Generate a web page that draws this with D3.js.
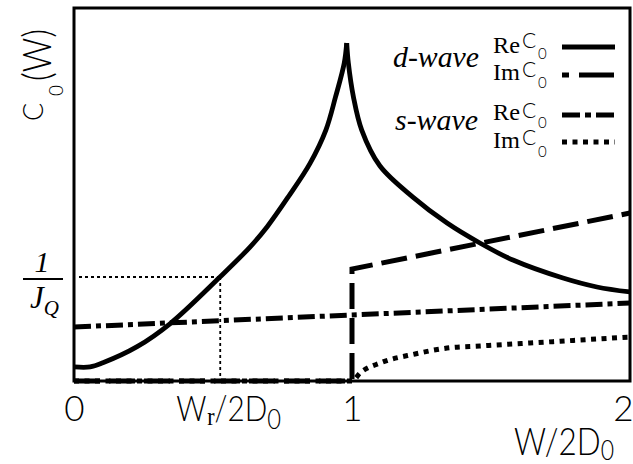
<!DOCTYPE html>
<html><head><meta charset="utf-8">
<script src="https://cdn.jsdelivr.net/npm/d3@7"></script>
<style>body{margin:0;background:#fff;} svg{display:block;}</style>
</head><body>
<svg id="chart" width="633" height="464"></svg>
<script>
// ---- data ----
const xTickValues = [0, 1, 2];
const xTickLabels = ["0", "1", "2"];
const omegaR = 0.526;      // W_r / 2D_0
const invJQ = 1.0;         // 1 / J_Q level
const dWaveRe = [[0,0.135],[0.058,0.135],[0.104,0.175],[0.227,0.33],[0.345,0.55],[0.525,1.0],[0.633,1.288],[0.695,1.484],[0.771,1.772],[0.849,2.093],[0.906,2.413],[0.941,2.734],[0.972,3.055],[0.981,3.25],[0.987,3.055],[1.005,2.734],[1.035,2.413],[1.10,2.07],[1.219,1.769],[1.342,1.519],[1.460,1.327],[1.579,1.163],[1.759,0.990],[1.881,0.904],[2.0,0.856]];
const dWaveIm = [[0,0],[1,0],[1,1.077],[2,1.615]];
const sWaveRe = [[0,0.519],[1,0.635],[2,0.75]];
const sWaveIm = [[0,0],[1,0],[1.029,0.077],[1.101,0.173],[1.227,0.26],[1.342,0.317],[1.460,0.337],[1.579,0.356],[1.701,0.375],[1.820,0.394],[2.0,0.423]];

const SANS = "Lato,Roboto,'DejaVu Sans',sans-serif";
const SERIF = "'Liberation Serif','DejaVu Serif','Times New Roman',serif";

const svg = d3.select("#chart");
const x = d3.scaleLinear().domain([0, 2]).range([74, 630]);
const y = d3.scaleLinear().domain([0, 3.587]).range([381, 8]);

function sans(sel, size) {
  return sel.style("font-family", SANS).style("font-weight", 300).style("font-size", size + "px");
}
function fit(sel, len) {
  return sel.attr("textLength", len).attr("lengthAdjust", "spacingAndGlyphs");
}
// squeeze a composite text horizontally so it spans [x0, x0+w]
function squeeze(textSel, x0, base, w) {
  const bw = textSel.node().getComputedTextLength();
  textSel.attr("transform", `translate(${x0},${base}) scale(${w / bw},1)`);
}

// guide lines (dotted thin)
svg.append("line").attr("x1", x(0) + 5).attr("x2", x(omegaR)).attr("y1", y(invJQ)).attr("y2", y(invJQ))
  .attr("stroke", "#000").attr("stroke-width", 1.8).attr("stroke-dasharray", "3,3");
svg.append("line").attr("x1", x(omegaR)).attr("x2", x(omegaR)).attr("y1", y(invJQ)).attr("y2", y(0))
  .attr("stroke", "#000").attr("stroke-width", 1.8).attr("stroke-dasharray", "3,3");

// frame
svg.append("rect").attr("x", x(0)).attr("y", y(3.587)).attr("width", x(2) - x(0)).attr("height", y(0) - y(3.587))
  .attr("fill", "none").attr("stroke", "#000").attr("stroke-width", 3);

const lineSmooth = d3.line().x(d => x(d[0])).y(d => y(d[1])).curve(d3.curveCatmullRom.alpha(0.5));
const lineMono = d3.line().x(d => x(d[0])).y(d => y(d[1])).curve(d3.curveMonotoneX);
const lineLin = d3.line().x(d => x(d[0])).y(d => y(d[1]));

// d-wave Re: split at cusp
const peakIdx = d3.maxIndex(dWaveRe, d => d[1]);
const leftBranch = dWaveRe.slice(0, peakIdx + 1);
const rightBranch = dWaveRe.slice(peakIdx);
[leftBranch, rightBranch].forEach(br => {
  svg.append("path").attr("d", lineSmooth(br)).attr("fill", "none").attr("stroke", "#000")
    .attr("stroke-width", 4.8).attr("stroke-linejoin", "miter");
});

// s-wave Re: dash-dot
svg.append("path").attr("d", lineLin(sWaveRe)).attr("fill", "none").attr("stroke", "#000")
  .attr("stroke-width", 5).attr("stroke-dasharray", "17,5,5,5");

// s-wave Im: dotted squares
svg.append("path").attr("d", lineMono(sWaveIm)).attr("fill", "none").attr("stroke", "#000")
  .attr("stroke-width", 5).attr("stroke-dasharray", "5,5.5");

// d-wave Im: dashed
svg.append("path").attr("d", lineLin(dWaveIm)).attr("fill", "none").attr("stroke", "#000")
  .attr("stroke-width", 5).attr("stroke-dasharray", "26,9");

// x axis tick labels
const axis = d3.axisBottom(x).tickValues(xTickValues).tickFormat((d, i) => xTickLabels[i]).tickSize(0);
const gx = svg.append("g").attr("transform", `translate(0,${y(0)})`).call(axis);
gx.select(".domain").remove();
sans(gx.selectAll("text").attr("y", 40).attr("dy", 0).attr("fill", "#000"), 35);
gx.selectAll("text").filter(d => d === 2).attr("dx", -7);

// W_r/2D_0 label (single text element)
const wr = sans(svg.append("text"), 35);
wr.append("tspan").text("W");
wr.append("tspan").attr("dy", 4).attr("dx", 1).style("font-family", SERIF).style("font-weight", 400).style("font-size", "26px").text("r");
wr.append("tspan").attr("dy", -4).text("/2D");
wr.append("tspan").attr("dy", 8).style("font-size", "28px").text("0");
squeeze(wr, x(omegaR) - 44, 421, 104);

// x-axis title
const xt = sans(svg.append("text"), 37);
xt.append("tspan").text("W/2D");
xt.append("tspan").attr("dy", 5).style("font-size", "27px").text("0");
squeeze(xt, 514, 455, 100);

// y-axis title (rotated)
const yt = svg.append("g").attr("transform", "translate(43,121) rotate(-90)");
sans(yt.append("text").attr("x", 0).attr("y", 0), 27).text("C");
sans(yt.append("text").attr("x", 25).attr("y", 20), 19).text("0");
fit(sans(yt.append("text").attr("x", 40).attr("y", 8), 40).text("(W)"), 52);

// 1/J_Q label
svg.append("text").attr("x", 42).attr("y", 272).attr("text-anchor", "middle")
  .style("font-family", SERIF).style("font-style", "italic").style("font-size", "30px").text("1");
svg.append("line").attr("x1", 23).attr("x2", 63).attr("y1", 279).attr("y2", 279)
  .attr("stroke", "#000").attr("stroke-width", 1.8);
const jq = svg.append("text").attr("x", 30).attr("y", 308)
  .style("font-family", SERIF).style("font-style", "italic").style("font-size", "31px");
jq.append("tspan").text("J");
jq.append("tspan").attr("dy", 7).style("font-size", "21px").text("Q");

// legend
const legendRows = [
  {label: "Re", base: 53, cBase: 48, sBase: 59, ly: 47, dash: null, off: 0},
  {label: "Im", base: 80, cBase: 77, sBase: 88, ly: 75, dash: "35,10", off: 28},
  {label: "Re", base: 120, cBase: 118, sBase: 128, ly: 115, dash: "18,5,6,5", off: 0},
  {label: "Im", base: 148, cBase: 145, sBase: 157, ly: 142, dash: "5,5.5", off: 0}
];
fit(svg.append("text").attr("x", 393).attr("y", 67).style("font-family", SERIF).style("font-style", "italic")
  .style("font-size", "29px").text("d-wave"), 86);
fit(svg.append("text").attr("x", 395).attr("y", 130).style("font-family", SERIF).style("font-style", "italic")
  .style("font-size", "29px").text("s-wave"), 83);
legendRows.forEach(r => {
  fit(svg.append("text").attr("x", 493).attr("y", r.base).style("font-family", SERIF).style("font-size", "23px").text(r.label), 27);
  sans(svg.append("text").attr("x", 522).attr("y", r.cBase), 21).text("C");
  sans(svg.append("text").attr("x", 538).attr("y", r.sBase), 15).text("0");
  const l = svg.append("line").attr("x1", 562).attr("x2", 615).attr("y1", r.ly).attr("y2", r.ly)
    .attr("stroke", "#000").attr("stroke-width", r.dash ? 5 : 4.8);
  if (r.dash) l.attr("stroke-dasharray", r.dash).attr("stroke-dashoffset", r.off);
});
</script>
</body></html>
